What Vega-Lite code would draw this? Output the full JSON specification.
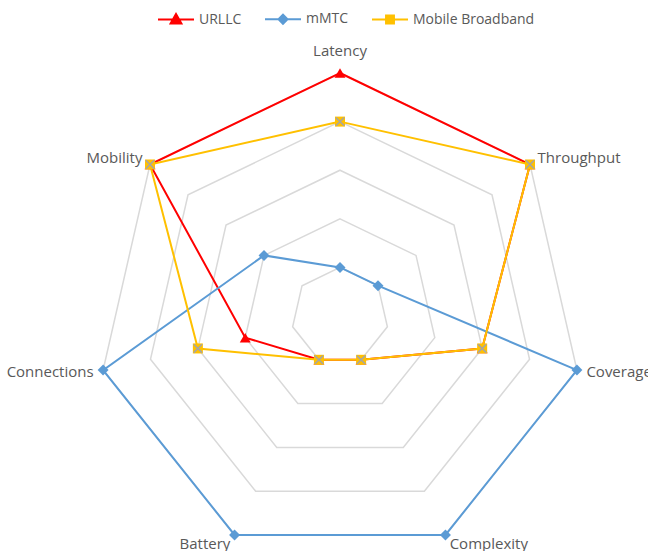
{
  "$schema": "https://vega.github.io/schema/vega-lite/v6.json",
  "width": 648,
  "height": 551,
  "autosize": {"type": "none"},
  "padding": 0,
  "background": "white",
  "config": {"view": {"stroke": null}, "font": "Open Sans"},
  "datasets": {
    "axes": [
      {"axis": "Latency", "i": 0, "levels": [1, 2, 3, 4, 5]},
      {"axis": "Throughput", "i": 1, "levels": [1, 2, 3, 4, 5]},
      {"axis": "Coverage", "i": 2, "levels": [1, 2, 3, 4, 5]},
      {"axis": "Complexity", "i": 3, "levels": [1, 2, 3, 4, 5]},
      {"axis": "Battery", "i": 4, "levels": [1, 2, 3, 4, 5]},
      {"axis": "Connections", "i": 5, "levels": [1, 2, 3, 4, 5]},
      {"axis": "Mobility", "i": 6, "levels": [1, 2, 3, 4, 5]}
    ],
    "scores": [
      {"series": "URLLC", "axis": "Latency", "value": 5},
      {"series": "URLLC", "axis": "Throughput", "value": 5},
      {"series": "URLLC", "axis": "Coverage", "value": 3},
      {"series": "URLLC", "axis": "Complexity", "value": 1},
      {"series": "URLLC", "axis": "Battery", "value": 1},
      {"series": "URLLC", "axis": "Connections", "value": 2},
      {"series": "URLLC", "axis": "Mobility", "value": 5},
      {"series": "mMTC", "axis": "Latency", "value": 1},
      {"series": "mMTC", "axis": "Throughput", "value": 1},
      {"series": "mMTC", "axis": "Coverage", "value": 5},
      {"series": "mMTC", "axis": "Complexity", "value": 5},
      {"series": "mMTC", "axis": "Battery", "value": 5},
      {"series": "mMTC", "axis": "Connections", "value": 5},
      {"series": "mMTC", "axis": "Mobility", "value": 2},
      {"series": "Mobile Broadband", "axis": "Latency", "value": 4},
      {"series": "Mobile Broadband", "axis": "Throughput", "value": 5},
      {"series": "Mobile Broadband", "axis": "Coverage", "value": 3},
      {"series": "Mobile Broadband", "axis": "Complexity", "value": 1},
      {"series": "Mobile Broadband", "axis": "Battery", "value": 1},
      {"series": "Mobile Broadband", "axis": "Connections", "value": 3},
      {"series": "Mobile Broadband", "axis": "Mobility", "value": 5}
    ]
  },
  "layer": [
    {
      "data": {"name": "axes"},
      "transform": [
        {"flatten": ["levels"]},
        {"calculate": "datum.levels*sin(datum.i*2*PI/7)", "as": "x"},
        {"calculate": "datum.levels*cos(datum.i*2*PI/7)", "as": "y"}
      ],
      "mark": {"type": "line", "interpolate": "linear-closed", "stroke": "#D9D9D9", "strokeWidth": 1.5},
      "encoding": {
        "x": {"field": "x", "type": "quantitative", "scale": {"domain": [-6.996, 6.337], "nice": false, "zero": false}, "axis": null},
        "y": {"field": "y", "type": "quantitative", "scale": {"domain": [-4.835, 6.502], "nice": false, "zero": false}, "axis": null},
        "detail": {"field": "levels", "type": "nominal"},
        "order": {"field": "i", "type": "quantitative"}
      }
    },
    {
      "data": {"name": "scores"},
      "transform": [
        {"lookup": "axis", "from": {"data": {"name": "axes"}, "key": "axis", "fields": ["i"]}},
        {"calculate": "datum.value*sin(datum.i*2*PI/7)", "as": "x"},
        {"calculate": "datum.value*cos(datum.i*2*PI/7)", "as": "y"}
      ],
      "mark": {"type": "line", "interpolate": "linear-closed", "strokeWidth": 2},
      "encoding": {
        "x": {"field": "x", "type": "quantitative", "scale": {"domain": [-6.996, 6.337], "nice": false, "zero": false}, "axis": null},
        "y": {"field": "y", "type": "quantitative", "scale": {"domain": [-4.835, 6.502], "nice": false, "zero": false}, "axis": null},
        "color": {
          "field": "series", "type": "nominal",
          "scale": {"domain": ["URLLC", "mMTC", "Mobile Broadband"], "range": ["#FF0000", "#5B9BD5", "#FFC000"]},
          "legend": {
            "orient": "none", "legendX": 157, "legendY": 0, "direction": "horizontal", "title": null,
            "symbolSize": 1296, "symbolStrokeWidth": 2, "labelFont": "Open Sans", "labelFontSize": 14,
            "labelColor": "#595959", "labelOffset": 4, "columnPadding": 19, "padding": 0,
            "encode": {
              "symbols": {
                "update": {
                  "shape": {"signal": "datum.value === 'URLLC' ? 'M-1,0H1M0,-0.3L0.3,0.22L-0.3,0.22Z' : datum.value === 'mMTC' ? 'M-1,0H1M0,-0.25L0.25,0L0,0.25L-0.25,0Z' : 'M-1,0H1M-0.22,-0.22H0.22V0.22H-0.22Z'"},
                  "fill": {"scale": "color", "field": "value"},
                  "stroke": {"scale": "color", "field": "value"},
                  "strokeWidth": {"value": 2},
                  "opacity": {"value": 1}
                }
              }
            }
          }
        },
        "order": {"field": "i", "type": "quantitative"}
      }
    },
    {
      "data": {"name": "scores"},
      "transform": [
        {"filter": "datum.series === 'URLLC'"},
        {"lookup": "axis", "from": {"data": {"name": "axes"}, "key": "axis", "fields": ["i"]}},
        {"calculate": "datum.value*sin(datum.i*2*PI/7)", "as": "x"},
        {"calculate": "datum.value*cos(datum.i*2*PI/7)", "as": "y"}
      ],
      "mark": {"type": "point", "filled": true, "opacity": 1, "size": 120, "shape": "triangle-up"},
      "encoding": {
        "x": {"field": "x", "type": "quantitative", "scale": {"domain": [-6.996, 6.337], "nice": false, "zero": false}, "axis": null},
        "y": {"field": "y", "type": "quantitative", "scale": {"domain": [-4.835, 6.502], "nice": false, "zero": false}, "axis": null},
        "color": {"field": "series", "type": "nominal", "scale": {"domain": ["URLLC", "mMTC", "Mobile Broadband"], "range": ["#FF0000", "#5B9BD5", "#FFC000"]}}
      }
    },
    {
      "data": {"name": "scores"},
      "transform": [
        {"filter": "datum.series === 'mMTC'"},
        {"lookup": "axis", "from": {"data": {"name": "axes"}, "key": "axis", "fields": ["i"]}},
        {"calculate": "datum.value*sin(datum.i*2*PI/7)", "as": "x"},
        {"calculate": "datum.value*cos(datum.i*2*PI/7)", "as": "y"}
      ],
      "mark": {"type": "point", "filled": true, "opacity": 1, "size": 120, "shape": "diamond"},
      "encoding": {
        "x": {"field": "x", "type": "quantitative", "scale": {"domain": [-6.996, 6.337], "nice": false, "zero": false}, "axis": null},
        "y": {"field": "y", "type": "quantitative", "scale": {"domain": [-4.835, 6.502], "nice": false, "zero": false}, "axis": null},
        "color": {"field": "series", "type": "nominal", "scale": {"domain": ["URLLC", "mMTC", "Mobile Broadband"], "range": ["#FF0000", "#5B9BD5", "#FFC000"]}}
      }
    },
    {
      "data": {"name": "scores"},
      "transform": [
        {"filter": "datum.series === 'Mobile Broadband'"},
        {"lookup": "axis", "from": {"data": {"name": "axes"}, "key": "axis", "fields": ["i"]}},
        {"calculate": "datum.value*sin(datum.i*2*PI/7)", "as": "x"},
        {"calculate": "datum.value*cos(datum.i*2*PI/7)", "as": "y"}
      ],
      "mark": {"type": "point", "filled": true, "opacity": 1, "size": 100, "shape": "square"},
      "encoding": {
        "x": {"field": "x", "type": "quantitative", "scale": {"domain": [-6.996, 6.337], "nice": false, "zero": false}, "axis": null},
        "y": {"field": "y", "type": "quantitative", "scale": {"domain": [-4.835, 6.502], "nice": false, "zero": false}, "axis": null},
        "color": {"field": "series", "type": "nominal", "scale": {"domain": ["URLLC", "mMTC", "Mobile Broadband"], "range": ["#FF0000", "#5B9BD5", "#FFC000"]}}
      }
    },
    {
      "data": {"name": "scores"},
      "transform": [
        {"filter": "datum.series === 'Mobile Broadband'"},
        {"lookup": "axis", "from": {"data": {"name": "axes"}, "key": "axis", "fields": ["i"]}},
        {"calculate": "datum.value*sin(datum.i*2*PI/7)", "as": "x"},
        {"calculate": "datum.value*cos(datum.i*2*PI/7)", "as": "y"}
      ],
      "mark": {"type": "point", "filled": false, "shape": "M-1,-1L1,1M1,-1L-1,1", "size": 70, "stroke": "#A5A5A5", "strokeWidth": 1.5, "opacity": 1},
      "encoding": {
        "x": {"field": "x", "type": "quantitative", "scale": {"domain": [-6.996, 6.337], "nice": false, "zero": false}, "axis": null},
        "y": {"field": "y", "type": "quantitative", "scale": {"domain": [-4.835, 6.502], "nice": false, "zero": false}, "axis": null}
      }
    },
    {
      "data": {"name": "axes"},
      "transform": [
        {"calculate": "5.2*sin(datum.i*2*PI/7)", "as": "x"},
        {"calculate": "5.2*cos(datum.i*2*PI/7)", "as": "y"},
        {"filter": "datum.i === 0"}
      ],
      "mark": {"type": "text", "align": "center", "baseline": "middle", "dy": -12, "font": "Open Sans", "fontSize": 15, "color": "#595959"},
      "encoding": {
        "x": {"field": "x", "type": "quantitative", "scale": {"domain": [-6.996, 6.337], "nice": false, "zero": false}, "axis": null},
        "y": {"field": "y", "type": "quantitative", "scale": {"domain": [-4.835, 6.502], "nice": false, "zero": false}, "axis": null},
        "text": {"field": "axis"}
      }
    },
    {
      "data": {"name": "axes"},
      "transform": [
        {"calculate": "5.2*sin(datum.i*2*PI/7)", "as": "x"},
        {"calculate": "5.2*cos(datum.i*2*PI/7)", "as": "y"},
        {"filter": "datum.i >= 1 && datum.i <= 3"}
      ],
      "mark": {"type": "text", "align": "left", "baseline": "middle", "font": "Open Sans", "fontSize": 15, "color": "#595959"},
      "encoding": {
        "x": {"field": "x", "type": "quantitative", "scale": {"domain": [-6.996, 6.337], "nice": false, "zero": false}, "axis": null},
        "y": {"field": "y", "type": "quantitative", "scale": {"domain": [-4.835, 6.502], "nice": false, "zero": false}, "axis": null},
        "text": {"field": "axis"}
      }
    },
    {
      "data": {"name": "axes"},
      "transform": [
        {"calculate": "5.2*sin(datum.i*2*PI/7)", "as": "x"},
        {"calculate": "5.2*cos(datum.i*2*PI/7)", "as": "y"},
        {"filter": "datum.i >= 4"}
      ],
      "mark": {"type": "text", "align": "right", "baseline": "middle", "font": "Open Sans", "fontSize": 15, "color": "#595959"},
      "encoding": {
        "x": {"field": "x", "type": "quantitative", "scale": {"domain": [-6.996, 6.337], "nice": false, "zero": false}, "axis": null},
        "y": {"field": "y", "type": "quantitative", "scale": {"domain": [-4.835, 6.502], "nice": false, "zero": false}, "axis": null},
        "text": {"field": "axis"}
      }
    }
  ]
}
